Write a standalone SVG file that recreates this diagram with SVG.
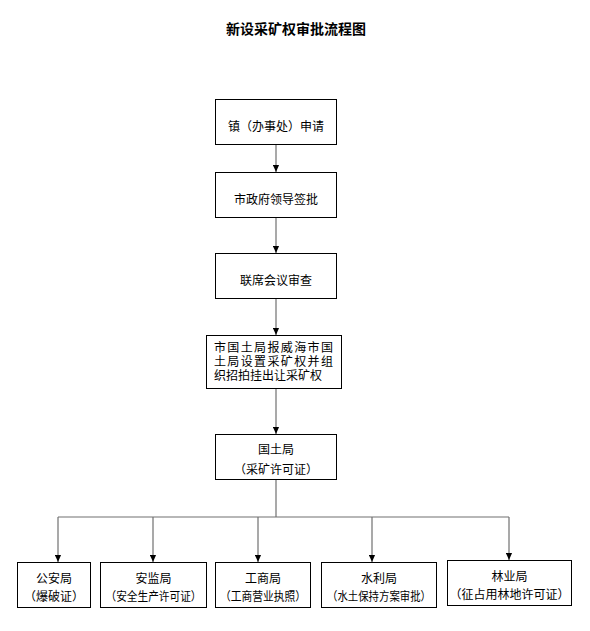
<svg xmlns="http://www.w3.org/2000/svg" width="590" height="631" viewBox="0 0 590 631">
<defs>
<marker id="ah" viewBox="0 0 8 8" refX="8" refY="4" markerWidth="7" markerHeight="7" markerUnits="userSpaceOnUse" orient="auto">
<path d="M0,0.5 L8,4 L0,7.5 Z" fill="#000"/>
</marker>
<style>
.box{fill:#fff;stroke:#000;stroke-width:1}
.t{font-family:"Noto Sans CJK SC","Noto Sans",sans-serif;font-size:12px;fill:#000;text-anchor:middle;dominant-baseline:central}
.tl{font-family:"Noto Sans CJK SC","Noto Sans",sans-serif;font-size:12px;fill:#000}
.title{font-family:"Noto Sans CJK SC","Noto Sans",sans-serif;font-size:14px;font-weight:bold;fill:#000;text-anchor:middle;dominant-baseline:central}
.c{fill:none;stroke:#707070;stroke-width:1.2}
.ca{fill:none;stroke:#707070;stroke-width:1.2;marker-end:url(#ah)}
</style>
</defs>
<rect width="590" height="631" fill="#fff"/>
<text class="title" x="296" y="28">新设采矿权审批流程图</text>

<g id="connectors">
<line class="ca" x1="276" y1="144" x2="276" y2="172"/>
<line class="ca" x1="276" y1="218" x2="276" y2="253"/>
<line class="ca" x1="276" y1="299" x2="276" y2="335"/>
<line class="ca" x1="276" y1="389" x2="276" y2="434"/>
<line class="c" x1="276" y1="480" x2="276" y2="517"/>
<polyline class="c" points="58,517 509,517"/>
<line class="ca" x1="58" y1="517" x2="58" y2="562"/>
<line class="ca" x1="153" y1="517" x2="153" y2="562"/>
<line class="ca" x1="258" y1="517" x2="258" y2="562"/>
<line class="ca" x1="372" y1="517" x2="372" y2="562"/>
<line class="ca" x1="509" y1="517" x2="509" y2="560"/>
</g>

<g id="n1">
<rect class="box" x="215.5" y="99.5" width="121" height="45"/>
<text class="t" x="276" y="125">镇（办事处）申请</text>
</g>
<g id="n2">
<rect class="box" x="215.5" y="172.5" width="121" height="45"/>
<text class="t" x="276" y="198">市政府领导签批</text>
</g>
<g id="n3">
<rect class="box" x="215.5" y="253.5" width="121" height="45"/>
<text class="t" x="276" y="279">联席会议审查</text>
</g>
<g id="n4">
<rect class="box" x="206.5" y="335.5" width="135" height="53"/>
<text class="tl"><tspan x="214" y="351.5" textLength="119" lengthAdjust="spacing">市国土局报威海市国</tspan><tspan x="214" y="365.5" textLength="119" lengthAdjust="spacing">土局设置采矿权并组</tspan><tspan x="214" y="379.5" textLength="108" lengthAdjust="spacing">织招拍挂出让采矿权</tspan></text>
</g>
<g id="n5">
<rect class="box" x="215.5" y="434.5" width="121" height="45"/>
<text class="t" x="276" y="448">国土局</text>
<text class="t" x="276" y="468">（采矿许可证）</text>
</g>

<g id="b1">
<rect class="box" x="17.5" y="562.5" width="73" height="45"/>
<text class="t" x="54" y="577">公安局</text>
<text class="t" x="54" y="595">（爆破证）</text>
</g>
<g id="b2">
<rect class="box" x="100.5" y="562.5" width="106" height="45"/>
<text class="t" x="153.5" y="577">安监局</text>
<text class="t" x="153.5" y="595" textLength="96" lengthAdjust="spacingAndGlyphs">（安全生产许可证）</text>
</g>
<g id="b3">
<rect class="box" x="215.5" y="562.5" width="95" height="45"/>
<text class="t" x="263" y="577">工商局</text>
<text class="t" x="263" y="595" textLength="86" lengthAdjust="spacingAndGlyphs">（工商营业执照）</text>
</g>
<g id="b4">
<rect class="box" x="321.5" y="562.5" width="115" height="45"/>
<text class="t" x="379" y="577">水利局</text>
<text class="t" x="379" y="595" textLength="104" lengthAdjust="spacingAndGlyphs">（水土保持方案审批）</text>
</g>
<g id="b5">
<rect class="box" x="447.5" y="560.5" width="124" height="45"/>
<text class="t" x="509.5" y="575">林业局</text>
<text class="t" x="509.5" y="593">（征占用林地许可证）</text>
</g>
</svg>
